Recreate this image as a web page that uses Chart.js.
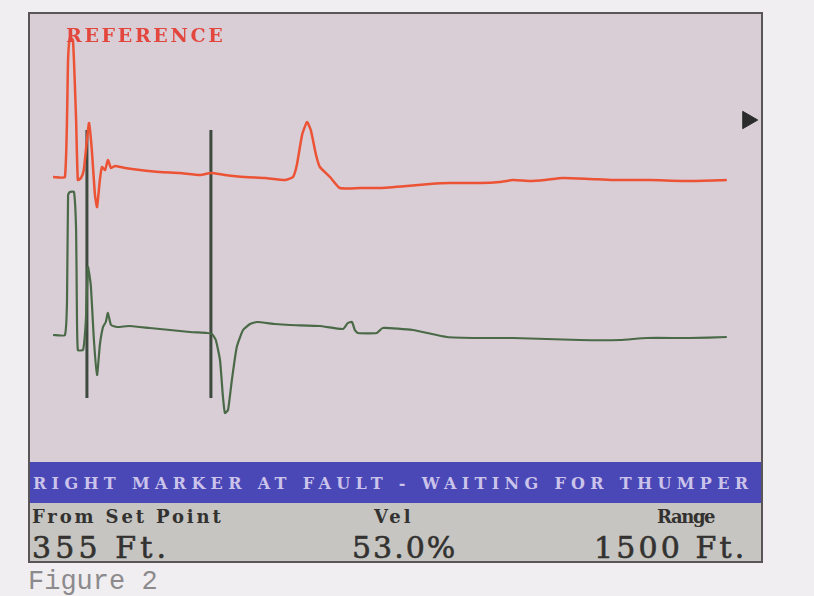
<!DOCTYPE html>
<html lang="en">

<head>
    <meta charset="UTF-8">
    <meta name="viewport" content="width=device-width, initial-scale=1.0">
    <title>Figure 2 - Reference and Thumper Traces</title>

    <script src="https://cdn.jsdelivr.net/npm/chart.js"></script>

    <style>
        body { margin: 0; width: 814px; height: 596px; overflow: hidden; background: #f1eef1; font-family: "DejaVu Serif", serif; }
        #screen { position: absolute; left: 28px; top: 12px; width: 731px; height: 547px; border: 2px solid #5a5658; }
        #plot { position: absolute; left: 0; top: 0; width: 731px; height: 448px; background: #d9cdd6; }
        #bar { position: absolute; left: 0; top: 448px; width: 731px; height: 41px; background: #4a48b6; }
        #info { position: absolute; left: 0; top: 489px; width: 731px; height: 58px; background: #c6c5c1; }
        .t { position: absolute; white-space: nowrap; line-height: 1; display: inline-block; }
        #refLabel { left: 36px; top: 12px; font-size: 19px; font-weight: bold; color: #e2463c; }
        #status { left: 3px; top: 14px; font-size: 16px; font-weight: bold; color: #cbc3ea; }
        .lbl { font-size: 18px; font-weight: bold; color: #333230; top: 5px; }
        .val { font-size: 30px; color: #333230; top: 30px; -webkit-text-stroke: 0.6px #333230; }
        #figure { position: absolute; left: 28px; top: 569px; font-family: "Liberation Mono", monospace; font-size: 27px; color: #8c8a8c; line-height: 1; }
    </style>
</head>

<body>
    <div id="screen">
        <div id="plot">
            <canvas id="traceChart" width="731" height="448"></canvas>
            <span class="t" id="refLabel" data-w="160">REFERENCE</span>
        </div>
        <div id="bar"><span class="t" id="status" data-w="720">RIGHT MARKER AT FAULT - WAITING FOR THUMPER</span></div>
        <div id="info">
            <span class="t lbl" style="left:2px" data-w="192">From Set Point</span>
            <span class="t lbl" style="left:344px" data-w="40">Vel</span>
            <span class="t lbl" style="left:627px" data-w="57">Range</span>
            <span class="t val" id="dist" style="left:2px" data-w="138"></span>
            <span class="t val" id="vel" style="left:322px" data-w="105"></span>
            <span class="t val" id="range" style="left:564px" data-w="153"></span>
        </div>
    </div>
    <div id="figure">Figure 2</div>

    <script>
        // distance along the cable in feet (markers are 355 ft apart), amplitude in screen units
        const redX = [-97, -63, -54, -49, -40, -31, -26, -17, -9, 0, 6, 14, 23, 29, 37, 43, 52, 60, 69, 80, 109, 152, 209, 266, 324, 355, 395, 452, 510, 567, 590, 601, 616, 630, 641, 656, 667, 696, 724, 782, 839, 916, 982, 1039, 1125, 1182, 1220, 1268, 1311, 1363, 1440, 1506, 1612, 1727, 1832];
        const redY = [284, 284, 401, 423, 421, 341, 281, 283, 291, 321, 338, 311, 266, 254, 281, 294, 291, 301, 293, 295, 293, 291, 289, 288, 286, 288, 286, 284, 283, 281, 284, 296, 326, 339, 331, 306, 294, 284, 273, 273, 273, 275, 277, 278, 278, 279, 281, 280, 281, 283, 282, 281, 281, 280, 281];

        const greenX = [-97, -63, -57, -54, -49, -37, -31, -29, -26, -11, -3, 3, 11, 20, 29, 37, 46, 54, 60, 69, 86, 123, 180, 238, 295, 344, 358, 369, 381, 389, 395, 404, 415, 429, 447, 467, 487, 538, 581, 667, 733, 747, 759, 767, 776, 830, 847, 933, 1031, 1125, 1220, 1411, 1526, 1603, 1726, 1832];
        const greenY = [126, 126, 161, 266, 269, 269, 231, 161, 111, 111, 141, 194, 176, 121, 86, 116, 134, 139, 148, 136, 134, 135, 133, 131, 129, 128, 127, 121, 101, 66, 48, 51, 81, 114, 131, 137, 139, 137, 136, 135, 132, 138, 139, 131, 128, 128, 133, 131, 124, 123, 123, 121, 121, 123, 123, 124];

        // cursor markers and the right-hand level indicator
        const markerX = [0, 355];
        const markerTop = 331;
        const markerBottom = 63;
        const indicator = { x: 1892, y: 341 };

        const distFt = 355;
        const velPct = 53.0;
        const rangeFt = 1500;

        const pts = (xs, ys) => xs.map((x, i) => ({ x: x, y: ys[i] }));

        document.getElementById('dist').textContent = `${distFt} Ft.`;
        document.getElementById('vel').textContent = `${velPct.toFixed(1)}%`;
        document.getElementById('range').textContent = `${rangeFt} Ft.`;

        // stretch screen texts to the widths seen on the display
        document.querySelectorAll('[data-w]').forEach(el => {
            const target = +el.dataset.w;
            const n = el.textContent.length;
            const extra = (target - el.offsetWidth) / n;
            el.style.letterSpacing = extra + 'px';
        });

        const datasets = [
            {
                data: pts(redX, redY),
                borderColor: '#ec5234',
                borderWidth: 2.5,
                tension: 0.15
            },
            {
                data: pts(greenX, greenY),
                borderColor: '#4a6a47',
                borderWidth: 2.2,
                tension: 0.15
            }
        ];
        markerX.forEach(x => {
            datasets.push({
                data: [{ x: x, y: markerTop }, { x: x, y: markerBottom }],
                borderColor: '#3d4a3d',
                borderWidth: 3
            });
        });
        datasets.push({
            data: [indicator],
            showLine: false,
            pointRadius: 10,
            pointStyle: 'triangle',
            rotation: 90,
            backgroundColor: '#2c2c2c',
            borderColor: '#2c2c2c'
        });

        const ctx = document.getElementById('traceChart').getContext('2d');
        const traceChart = new Chart(ctx, {
            type: 'scatter',
            data: { datasets: datasets },
            options: {
                responsive: false,
                animation: false,
                showLine: true,
                elements: { point: { radius: 0 } },
                layout: { padding: 0, autoPadding: false },
                plugins: { legend: { display: false }, tooltip: { enabled: false } },
                scales: {
                    x: { type: 'linear', display: false, min: -163, max: 1930 },
                    y: { type: 'linear', display: false, min: -1, max: 447 }
                }
            }
        });
    </script>
</body>

</html>
